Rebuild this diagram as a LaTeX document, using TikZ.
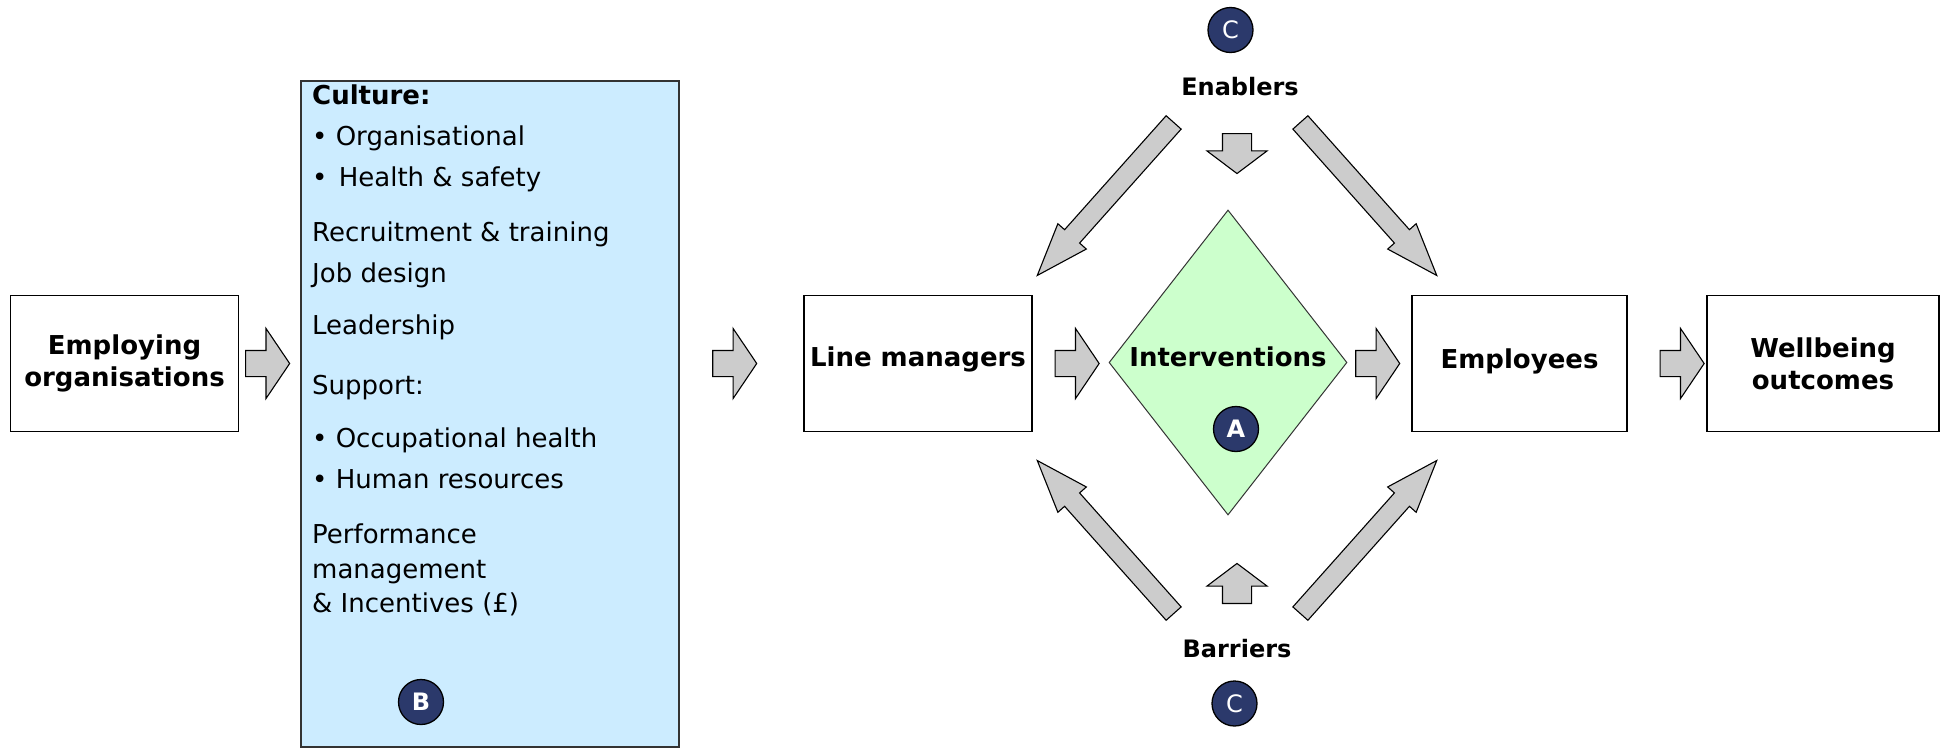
\documentclass[tikz,border=0pt]{standalone}
\usepackage{fontspec}
\setmainfont{DejaVu Sans}
\usetikzlibrary{shapes.geometric,shapes.arrows,positioning}
\definecolor{panelblue}{HTML}{CCECFF}
\definecolor{diagreen}{HTML}{CCFFCC}
\definecolor{arrowgray}{HTML}{CCCCCC}
\definecolor{badgeblue}{HTML}{2B396B}
\tikzset{
  mainbox/.style={draw=black, line width=1.2pt, fill=white, minimum width=228pt, minimum height=136pt,
    align=center, inner sep=0pt, font=\bfseries\fontsize{26}{32}\selectfont},
  blk/.style={single arrow, draw=black, line width=1.1pt, fill=arrowgray, inner xsep=0pt, single arrow head indent=0pt},
  harrow/.style={blk, inner ysep=12.5pt, minimum height=44pt, minimum width=69pt, single arrow head extend=22pt, single arrow tip angle=112},
  varrow/.style={blk, anchor=tail, inner ysep=14pt, minimum height=40pt, minimum width=59pt, single arrow head extend=15.5pt, single arrow tip angle=106},
  darrow/.style={blk, anchor=tail, inner ysep=9.5pt, minimum height=205pt, minimum width=37pt, single arrow head extend=9pt, single arrow tip angle=40},
  badge/.style={circle, draw=black, line width=1.3pt, fill=badgeblue, text=white, minimum size=45pt, inner sep=0pt,
    font=\bfseries\fontsize{24}{24}\selectfont},
  paneltext/.style={anchor=base west, inner sep=0pt, font=\fontsize{26}{30}\selectfont},
  sidelabel/.style={anchor=base, inner sep=0pt, font=\bfseries\fontsize{24}{28}\selectfont}
}
\newcommand{\lift}[2]{\raisebox{#1}[\height][\depth]{#2}}
\begin{document}
\begin{tikzpicture}[x=1pt, y=-1pt]
	\useasboundingbox (0,0) rectangle (1943,747);
	% Organisation factors panel
	\node[draw=black!80, line width=1.6pt, fill=panelblue, anchor=north west, minimum width=378pt, minimum height=666pt] (panel) at (300,80) {};
	\foreach \yy/\txt in {104/\textbf{Culture:}, 145/• Organisational, 186/•\hspace{3pt} Health \& safety,
		241/Recruitment \& training, 282/Job design, 334/Leadership, 394/Support:,
		447/• Occupational health, 488/• Human resources, 543/Performance, 578/management, 612/\& Incentives (£)} {
		\node[paneltext] at (312,\yy) {\txt};
	}
	\node[badge] (cB) at (421,702) {B};
	% Main chain
	\node[mainbox] (emp) at (124.5,363.5) {Employing\\organisations};
	\node[mainbox] (lm) at (918,363.5) {\lift{4pt}{Line managers}};
	\node[diamond, draw=black!80, line width=1pt, fill=diagreen, minimum width=238pt, minimum height=305pt, inner sep=0pt,
		font=\bfseries\fontsize{26}{32}\selectfont] (int) at (1228,362.5) {\lift{6pt}{Interventions}};
	\node[badge] (cA) at (1236,429) {A};
	\node[mainbox, minimum width=215pt] (empl) at (1519.5,363.5) {\lift{2pt}{Employees}};
	\node[mainbox, minimum width=232pt] (well) at (1823,363.5) {Wellbeing\\outcomes};
	% Horizontal arrows
	\node[harrow, right=6pt of emp] (a1) {};
	\node[harrow, left=46pt of lm] (a2) {};
	\node[harrow, right=22pt of lm] (a3) {};
	\node[harrow, left=11pt of empl] (a4) {};
	\node[harrow, right=32pt of empl] (a5) {};
	% Enablers and barriers
	\node[badge, font=\fontsize{24}{24}\selectfont] (cTop) at (1230.5,30) {C};
	\node[sidelabel] (enab) at (1240,95) {Enablers};
	\node[sidelabel] (barr) at (1237,657) {Barriers};
	\node[badge, font=\fontsize{24}{24}\selectfont] (cBot) at (1234.5,703.5) {C};
	\node[varrow, rotate=-90] (dn) at (1237,133) {};
	\node[varrow, rotate=90] (up) at (1237,604) {};
	\foreach \px/\py/\ang in {1174/122/-131.7, 1300/122/-48.3, 1174/614/131.7, 1300/614/48.3} {
		\node[darrow, rotate=\ang] at (\px,\py) {};
	}
\end{tikzpicture}
\end{document}
